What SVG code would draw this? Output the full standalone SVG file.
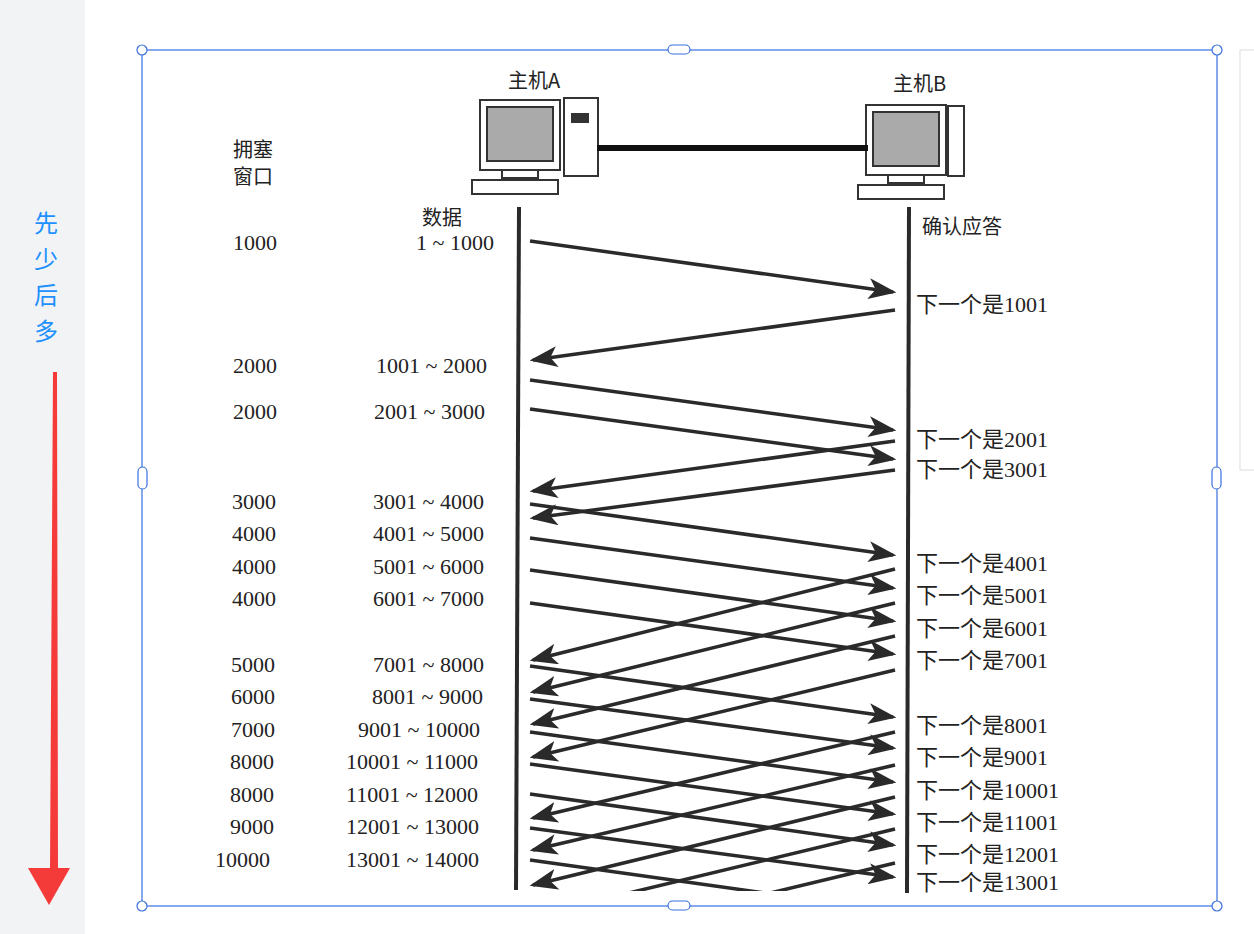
<svg xmlns="http://www.w3.org/2000/svg" width="1254" height="934" viewBox="0 0 1254 934">
<style>
.t{font-family:"Liberation Serif","Noto Sans CJK SC",serif;font-size:22px;fill:#222}
.c{font-family:"Noto Sans CJK SC",sans-serif;font-size:20px;fill:#222}
.a{stroke:#2a2a2a;stroke-width:3.5;fill:none;marker-end:url(#ah)}
.h{fill:#fff;stroke:#3a6fe0;stroke-width:1.2}
</style>
<defs>
<marker id="ah" markerWidth="8" markerHeight="6" refX="7" refY="3" orient="auto" markerUnits="strokeWidth"><path d="M0,0 L8,3 L0,6 L2,3 Z" fill="#2a2a2a"/></marker>
<clipPath id="cp"><rect x="0" y="0" width="1254" height="891"/></clipPath>
<g id="pc">
<rect x="0" y="0" width="80" height="70" fill="#fff" stroke="#333" stroke-width="2"/>
<rect x="7" y="7" width="66" height="54" fill="#aaa" stroke="#333" stroke-width="2"/>
<rect x="22" y="70" width="36" height="8" fill="#fff" stroke="#333" stroke-width="2"/>
<rect x="-8" y="80" width="86" height="14" fill="#fff" stroke="#333" stroke-width="2"/>
</g>
</defs>
<rect width="1254" height="934" fill="#fff"/>
<rect width="85" height="934" fill="#f2f3f5"/>
<g id="sidebar">
<text x="46" y="232" font-family="Noto Sans CJK SC,sans-serif" font-size="24" fill="#1e90ff" text-anchor="middle">先</text>
<text x="46" y="268" font-family="Noto Sans CJK SC,sans-serif" font-size="24" fill="#1e90ff" text-anchor="middle">少</text>
<text x="46" y="304" font-family="Noto Sans CJK SC,sans-serif" font-size="24" fill="#1e90ff" text-anchor="middle">后</text>
<text x="46" y="340" font-family="Noto Sans CJK SC,sans-serif" font-size="24" fill="#1e90ff" text-anchor="middle">多</text>
<polygon points="53,372 57,372 58,868 70,868 49,905 28,868 50,868" fill="#f53a3a"/>
</g>
<rect x="1240" y="50" width="20" height="420" fill="#fff" stroke="#ddd"/>
<g id="hostA">
<use href="#pc" x="480" y="100"/>
<rect x="564" y="98" width="34" height="78" fill="#fff" stroke="#333" stroke-width="2"/>
<rect x="571" y="113" width="18" height="10" fill="#333"/>
<text class="c" x="508" y="88">主机A</text>
</g>
<g id="hostB">
<use href="#pc" x="866" y="105"/>
<rect x="948" y="106" width="16" height="70" fill="#fff" stroke="#333" stroke-width="2"/>
<text class="c" x="893" y="91">主机B</text>
</g>
<line x1="597" y1="148" x2="868" y2="148" stroke="#111" stroke-width="6"/>
<text class="c" x="233" y="157">拥塞</text>
<text class="c" x="233" y="184">窗口</text>
<text class="c" x="422" y="225">数据</text>
<text class="c" x="922" y="234">确认应答</text>
<g id="connectors">
<line x1="519" y1="207" x2="516" y2="890" stroke="#2a2a2a" stroke-width="4"/>
<line x1="909" y1="207" x2="907" y2="893" stroke="#2a2a2a" stroke-width="4"/>
<g clip-path="url(#cp)">
<path class="a" d="M530,241 L893,292"/>
<path class="a" d="M530,380 L893,430"/>
<path class="a" d="M530,409 L893,459"/>
<path class="a" d="M530,504 L893,555"/>
<path class="a" d="M530,538 L893,588"/>
<path class="a" d="M530,570 L893,621"/>
<path class="a" d="M530,603 L893,654"/>
<path class="a" d="M530,666 L893,717"/>
<path class="a" d="M530,699 L893,748"/>
<path class="a" d="M530,732 L893,782"/>
<path class="a" d="M530,764 L893,814"/>
<path class="a" d="M530,794 L893,845"/>
<path class="a" d="M530,828 L893,877"/>
<path d="M530,860 L893,911" stroke="#2a2a2a" stroke-width="3.5"/>
<path class="a" d="M895,310 L533,360"/>
<path class="a" d="M895,441 L533,491"/>
<path class="a" d="M895,470 L533,518"/>
<path class="a" d="M895,569 L533,660"/>
<path class="a" d="M895,603 L533,692"/>
<path class="a" d="M895,636 L533,724"/>
<path class="a" d="M895,670 L533,757"/>
<path class="a" d="M895,732 L533,818"/>
<path class="a" d="M895,765 L533,850"/>
<path class="a" d="M895,797 L533,885"/>
<path d="M895,829 L533,916" stroke="#2a2a2a" stroke-width="3.5"/>
<path d="M895,863 L533,950" stroke="#2a2a2a" stroke-width="3.5"/>
</g>
</g>
<g id="left" class="t">
<text x="233" y="250">1000</text><text x="416" y="250">1 ~ 1000</text>
<text x="233" y="373">2000</text><text x="376" y="373">1001 ~ 2000</text>
<text x="233" y="419">2000</text><text x="374" y="419">2001 ~ 3000</text>
<text x="232" y="509">3000</text><text x="373" y="509">3001 ~ 4000</text>
<text x="232" y="541">4000</text><text x="373" y="541">4001 ~ 5000</text>
<text x="232" y="574">4000</text><text x="373" y="574">5001 ~ 6000</text>
<text x="232" y="606">4000</text><text x="373" y="606">6001 ~ 7000</text>
<text x="231" y="672">5000</text><text x="373" y="672">7001 ~ 8000</text>
<text x="231" y="704">6000</text><text x="372" y="704">8001 ~ 9000</text>
<text x="231" y="737">7000</text><text x="358" y="737">9001 ~ 10000</text>
<text x="230" y="769">8000</text><text x="346" y="769">10001 ~ 11000</text>
<text x="230" y="802">8000</text><text x="346" y="802">11001 ~ 12000</text>
<text x="230" y="834">9000</text><text x="346" y="834">12001 ~ 13000</text>
<text x="215" y="867">10000</text><text x="346" y="867">13001 ~ 14000</text>
</g>
<g id="right" class="t">
<text x="916" y="312">下一个是1001</text>
<text x="916" y="447">下一个是2001</text>
<text x="916" y="477">下一个是3001</text>
<text x="916" y="571">下一个是4001</text>
<text x="916" y="603">下一个是5001</text>
<text x="916" y="636">下一个是6001</text>
<text x="916" y="668">下一个是7001</text>
<text x="916" y="733">下一个是8001</text>
<text x="916" y="765">下一个是9001</text>
<text x="916" y="798">下一个是10001</text>
<text x="916" y="830">下一个是11001</text>
<text x="916" y="862">下一个是12001</text>
<text x="916" y="890">下一个是13001</text>
</g>
<g id="selection">
<rect x="142" y="50" width="1075" height="856" fill="none" stroke="#3a6fe0" stroke-width="1.2"/>
<circle class="h" cx="142" cy="50" r="5"/><circle class="h" cx="1217" cy="50" r="5"/>
<circle class="h" cx="142" cy="906" r="5"/><circle class="h" cx="1217" cy="906" r="5"/>
<rect class="h" x="668" y="45" width="22" height="9" rx="4.5"/><rect class="h" x="668" y="901" width="22" height="9" rx="4.5"/>
<rect class="h" x="138" y="467" width="9" height="22" rx="4.5"/><rect class="h" x="1212" y="467" width="9" height="22" rx="4.5"/>
</g>
</svg>
